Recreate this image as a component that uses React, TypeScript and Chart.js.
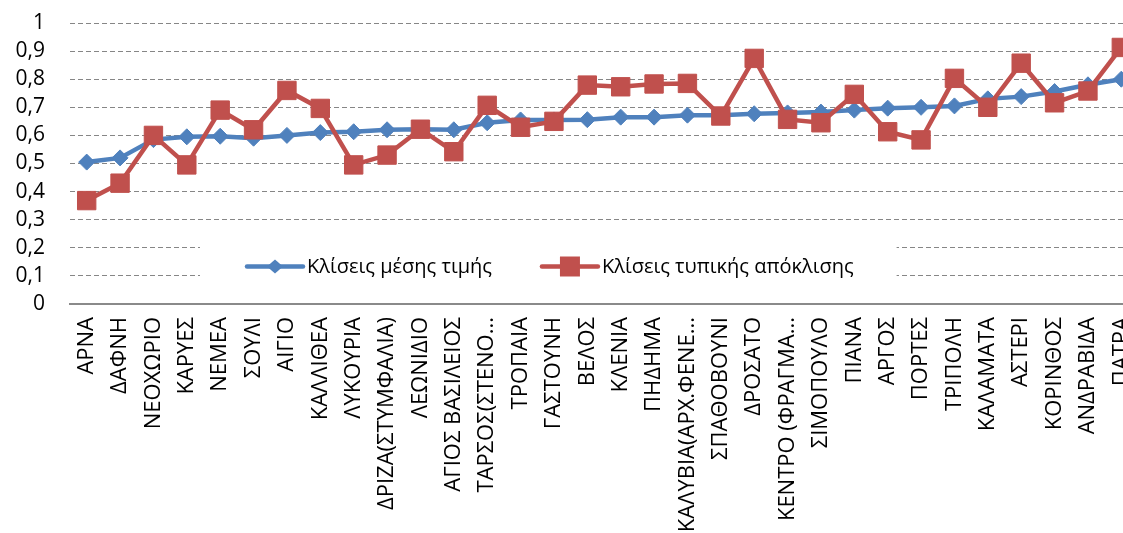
import React, { useEffect, useRef } from "react";
import { Chart, registerables } from "chart.js";

Chart.register(...registerables);

const categories = [
  "ΑΡΝΑ", "ΔΑΦΝΗ", "ΝΕΟΧΩΡΙΟ", "ΚΑΡΥΕΣ", "ΝΕΜΕΑ", "ΣΟΥΛΙ", "ΑΙΓΙΟ", "ΚΑΛΛΙΘΕΑ",
  "ΛΥΚΟΥΡΙΑ", "ΔΡΙΖΑ(ΣΤΥΜΦΑΛΙΑ)", "ΛΕΩΝΙΔΙΟ", "ΑΓΙΟΣ ΒΑΣΙΛΕΙΟΣ", "ΤΑΡΣΟΣ(ΣΤΕΝΟ...",
  "ΤΡΟΠΑΙΑ", "ΓΑΣΤΟΥΝΗ", "ΒΕΛΟΣ", "ΚΛΕΝΙΑ", "ΠΗΔΗΜΑ", "ΚΑΛΥΒΙΑ(ΑΡΧ.ΦΕΝΕ...",
  "ΣΠΑΘΟΒΟΥΝΙ", "ΔΡΟΣΑΤΟ", "ΚΕΝΤΡΟ (ΦΡΑΓΜΑ...", "ΣΙΜΟΠΟΥΛΟ", "ΠΙΑΝΑ", "ΑΡΓΟΣ",
  "ΠΟΡΤΕΣ", "ΤΡΙΠΟΛΗ", "ΚΑΛΑΜΑΤΑ", "ΑΣΤΕΡΙ", "ΚΟΡΙΝΘΟΣ", "ΑΝΔΡΑΒΙΔΑ", "ΠΑΤΡΑ",
];

const meanSlopes = [
  0.505, 0.52, 0.585, 0.595, 0.597, 0.59, 0.6, 0.61, 0.613, 0.62, 0.622, 0.62,
  0.645, 0.655, 0.655, 0.656, 0.665, 0.665, 0.672, 0.672, 0.677, 0.68, 0.683,
  0.69, 0.697, 0.7, 0.705, 0.73, 0.738, 0.756, 0.78, 0.8,
];

const sdSlopes = [
  0.368, 0.43, 0.6, 0.495, 0.69, 0.62, 0.76, 0.696, 0.495, 0.53, 0.622, 0.542,
  0.707, 0.629, 0.65, 0.779, 0.773, 0.783, 0.785, 0.669, 0.874, 0.657, 0.645,
  0.746, 0.613, 0.584, 0.803, 0.7, 0.857, 0.716, 0.758, 0.913,
];

const seriesNames = ["Κλίσεις μέσης τιμής", "Κλίσεις τυπικής απόκλισης"];
const yMin = 0;
const yMax = 1;
const yStep = 0.1;

const BLUE = "#4F81BD";
const RED = "#C0504D";
const FONT = "'Open Sans', 'Noto Sans', sans-serif";

const insideLegend = {
  id: "insideLegend",
  afterDraw(chart: any) {
    const { ctx, chartArea } = chart;
    const cy = chartArea.bottom - 37.5;
    const startX = chartArea.left + 177;
    ctx.save();
    ctx.font = `20px ${FONT}`;
    const items = [
      { text: seriesNames[0], color: BLUE, style: "diamond" },
      { text: seriesNames[1], color: RED, style: "square" },
    ];
    let x = startX;
    const layout: any[] = [];
    items.forEach((it) => {
      const w = ctx.measureText(it.text).width;
      layout.push({ ...it, x, w });
      x += 56 + 4 + w + 50;
    });
    const endX = x - 50;
    ctx.fillStyle = "#ffffff";
    ctx.fillRect(startX - 47, cy - 36, endX - startX + 47 + 43, 68);
    layout.forEach((it) => {
      ctx.strokeStyle = it.color;
      ctx.lineWidth = 4.5;
      ctx.lineCap = "round";
      ctx.beginPath();
      ctx.moveTo(it.x, cy);
      ctx.lineTo(it.x + 56, cy);
      ctx.stroke();
      const mx = it.x + 28;
      ctx.fillStyle = it.color;
      ctx.beginPath();
      if (it.style === "diamond") {
        ctx.moveTo(mx - 8, cy);
        ctx.lineTo(mx, cy - 7);
        ctx.lineTo(mx + 8, cy);
        ctx.lineTo(mx, cy + 7);
        ctx.closePath();
      } else {
        ctx.rect(mx - 10, cy - 10, 20, 20);
      }
      ctx.fill();
      ctx.fillStyle = "#000000";
      ctx.textBaseline = "middle";
      ctx.textAlign = "left";
      ctx.fillText(it.text, it.x + 60, cy + 1);
    });
    ctx.restore();
  },
};

export default function App() {
  const canvasRef = useRef<HTMLCanvasElement | null>(null);

  useEffect(() => {
    if (!canvasRef.current) return;
    const chart = new Chart(canvasRef.current, {
      type: "line",
      data: {
        labels: categories,
        datasets: [
          {
            label: seriesNames[0],
            data: meanSlopes,
            borderColor: BLUE,
            backgroundColor: BLUE,
            borderWidth: 4.5,
            pointStyle: "rectRot",
            pointRadius: 8,
            pointBorderWidth: 1,
            pointHoverRadius: 8,
            tension: 0,
            order: 2,
          },
          {
            label: seriesNames[1],
            data: sdSlopes,
            borderColor: RED,
            backgroundColor: RED,
            borderWidth: 4.5,
            pointStyle: "rect",
            pointRadius: 13,
            pointBorderWidth: 1,
            pointHoverRadius: 13,
            tension: 0,
            order: 1,
          },
        ],
      },
      options: {
        responsive: false,
        animation: false,
        layout: { padding: { top: 23, left: 0, right: 0, bottom: 0 } },
        plugins: {
          legend: { display: false },
          tooltip: { enabled: false },
        },
        scales: {
          x: {
            type: "category",
            offset: true,
            afterFit: (scale: any) => {
              scale.height = 229;
              scale.paddingLeft = 0;
              scale.paddingRight = 0;
            },
            grid: { display: false, drawTicks: false },
            border: { display: true, color: "#8a8a8a", width: 2 },
            ticks: {
              autoSkip: false,
              maxRotation: 90,
              minRotation: 90,
              padding: 13,
              color: "#000000",
              font: { family: FONT, size: 22 },
            },
          },
          y: {
            min: yMin,
            max: yMax,
            afterFit: (scale: any) => {
              scale.width = 70;
              scale.paddingTop = 0;
              scale.paddingBottom = 0;
            },
            grid: { color: "#868686", lineWidth: 1, drawTicks: false },
            border: { display: false, dash: [5, 3] },
            ticks: {
              stepSize: yStep,
              autoSkip: false,
              padding: 25,
              color: "#000000",
              font: { family: FONT, size: 21 },
              callback: (v: any) => String(Math.round(Number(v) * 10) / 10).replace(".", ","),
            },
          },
        },
      },
      plugins: [insideLegend],
    });
    return () => chart.destroy();
  }, []);

  return (
    <div
      style={{
        position: "fixed",
        left: 0,
        top: 0,
        width: 1123,
        height: 533,
        overflow: "hidden",
        background: "#ffffff",
      }}
    >
      <canvas ref={canvasRef} width={1152} height={533} style={{ display: "block" }} />
    </div>
  );
}
